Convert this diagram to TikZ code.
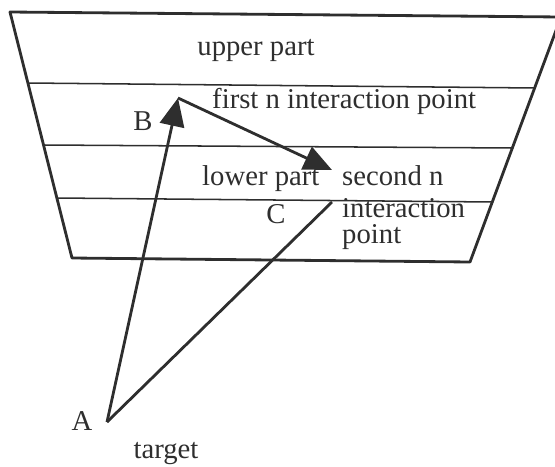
\documentclass[tikz,border=0pt]{standalone}
\usepackage{fontspec}
\setmainfont{Liberation Serif}
\usetikzlibrary{arrows.meta}
\definecolor{inkGrey}{HTML}{2E2E2E}

\begin{document}
\begin{tikzpicture}[
  x=0.03cm, y=-0.03cm,
  font=\fontsize{24.5}{28}\selectfont,
  wall/.style={draw=inkGrey, line width=2.4pt, line join=round},
  layer/.style={draw=inkGrey, line width=1.3pt},
  track/.style={draw=inkGrey, line width=2.4pt, line join=round},
  lbl/.style={inner sep=0pt, text=inkGrey},
  >={Triangle[length=24pt,width=21pt]},
]
\useasboundingbox (0,0) rectangle (555,466);
% detector outline and layers
\draw[wall] (561,17) -- (10,12) -- (72,258) -- (470,262) -- cycle;
\draw[layer] (28,83) -- (535,88);
\draw[layer] (44,145) -- (513,148);
\draw[layer] (57,198) -- (493,202);
% interaction points
\coordinate (A) at (107,422);
\coordinate (B) at (178,98);
\coordinate (C) at (332,170);
\coordinate (Cend) at (332,202);
\draw[track,->] (A) -- (B);
\draw[track,->] (B) -- (C);
\draw[track] (A) -- (Cend);
% labels
\node[lbl,anchor=base] (upper) at (256,55) {upper part};
\node[lbl,anchor=base west] (first) at (212,108) {first n interaction point};
\node[lbl,anchor=base west] (lower) at (202,185) {lower part};
\node[lbl,anchor=base west,align=left] (second) at (342,185) {second n};
\node[lbl,anchor=base west] (second2) at (342,217) {interaction};
\node[lbl,anchor=base west] (second3) at (342,243) {point};
\node[lbl,anchor=base] (labB) at (143,130) {B};
\node[lbl,anchor=base] (labC) at (276,223) {C};
\node[lbl,anchor=base] (labA) at (82,430) {A};
\node[lbl,anchor=base] (target) at (166,458) {target};
\end{tikzpicture}
\end{document}
